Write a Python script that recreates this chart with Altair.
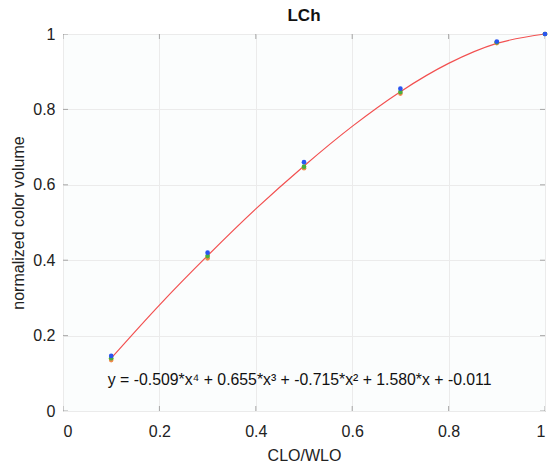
import altair as alt
import pandas as pd

# measured points (three series per CLO/WLO level)
x_vals = [0.1, 0.3, 0.5, 0.7, 0.9, 1.0]
blue_vals = [0.146, 0.420, 0.660, 0.855, 0.980, 1.000]
green_vals = [0.140, 0.411, 0.648, 0.846, 0.978, 1.000]
orange_vals = [0.135, 0.405, 0.644, 0.842, 0.976, 1.000]

# fitted curve
fit_x = [0.1, 0.2, 0.3, 0.4, 0.5, 0.6, 0.7, 0.8, 0.9, 1.0]
fit_y = [0.140, 0.281, 0.412, 0.536, 0.650, 0.755, 0.847, 0.922, 0.975, 1.000]

tick_vals = [0, 0.2, 0.4, 0.6, 0.8, 1]
equation = ["y = -0.509*x\u2074 + 0.655*x\u00b3 + -0.715*x\u00b2 + 1.580*x + -0.011"]
eq_pos = [(0.093, 0.082)]

FONT = "Liberation Sans"

pts = pd.concat([
    pd.DataFrame({"x": x_vals, "y": orange_vals, "s": "orange"}),
    pd.DataFrame({"x": x_vals, "y": green_vals, "s": "green"}),
    pd.DataFrame({"x": x_vals, "y": blue_vals, "s": "blue"}),
])
fit = pd.DataFrame({"x": fit_x, "y": fit_y})
ticks = pd.DataFrame({"v": tick_vals})
eq = pd.DataFrame({"x": [p[0] for p in eq_pos], "y": [p[1] for p in eq_pos], "t": equation})

xs = alt.Scale(domain=[0, 1], nice=False)
ys = alt.Scale(domain=[0, 1], nice=False)

x_axis = alt.Axis(values=tick_vals, format="~g", grid=True, gridColor="#ebebeb",
                  ticks=False, domain=False, labelFontSize=16, labelColor="#222",
                  labelFont=FONT, labelPadding=12, title="CLO/WLO", titleFont=FONT,
                  titleFontSize=16, titleFontWeight="normal", titleColor="#222", titlePadding=8)
y_axis = alt.Axis(values=tick_vals, format="~g", grid=True, gridColor="#ebebeb",
                  ticks=False, domain=False, labelFontSize=16, labelColor="#222",
                  labelFont=FONT, labelPadding=8, title="normalized color volume", titleFont=FONT,
                  titleFontSize=16, titleFontWeight="normal", titleColor="#222", titlePadding=6)

base_fit = alt.Chart(fit).mark_line(color="#f25050", strokeWidth=1.2, interpolate="monotone").encode(
    x=alt.X("x:Q", scale=xs, axis=x_axis),
    y=alt.Y("y:Q", scale=ys, axis=y_axis),
)

points = alt.Chart(pts).mark_circle(size=22, opacity=1).encode(
    x=alt.X("x:Q", scale=xs),
    y=alt.Y("y:Q", scale=ys),
    color=alt.Color("s:N", scale=alt.Scale(domain=["orange", "green", "blue"],
                                           range=["#f08a4b", "#4caf3a", "#2a55f0"]), legend=None),
    order=alt.Order("s:N", sort="descending"),
)

tick_color = "#888888"
xt_bottom = alt.Chart(ticks).mark_tick(orient="vertical", size=10, color=tick_color, thickness=1, clip=True).encode(
    x=alt.X("v:Q", scale=xs), y=alt.datum(0, scale=ys))
xt_top = alt.Chart(ticks).mark_tick(orient="vertical", size=10, color=tick_color, thickness=1, clip=True).encode(
    x=alt.X("v:Q", scale=xs), y=alt.datum(1, scale=ys))
yt_left = alt.Chart(ticks).mark_tick(orient="horizontal", size=10, color=tick_color, thickness=1, clip=True).encode(
    y=alt.Y("v:Q", scale=ys), x=alt.datum(0, scale=xs))
yt_right = alt.Chart(ticks).mark_tick(orient="horizontal", size=10, color=tick_color, thickness=1, clip=True).encode(
    y=alt.Y("v:Q", scale=ys), x=alt.datum(1, scale=xs))

eq_text = alt.Chart(eq).mark_text(align="left", baseline="middle", font=FONT, fontSize=15.8, color="#111").encode(
    x=alt.X("x:Q", scale=xs), y=alt.Y("y:Q", scale=ys), text="t:N")

chart = alt.layer(base_fit, xt_bottom, xt_top, yt_left, yt_right, points, eq_text).properties(
    width=482, height=377,
    title=alt.Title("LCh", font=FONT, fontSize=17, fontWeight="bold", color="#111", offset=1),
    autosize=alt.AutoSizeParams(type="none"),
    padding={"left": 63, "top": 34, "right": 5, "bottom": 53},
    background="white",
).configure_view(stroke="#999999", strokeWidth=1, fill="#fbfdfd")

chart.save("out.html", embed_options={"renderer": "svg", "actions": False})
